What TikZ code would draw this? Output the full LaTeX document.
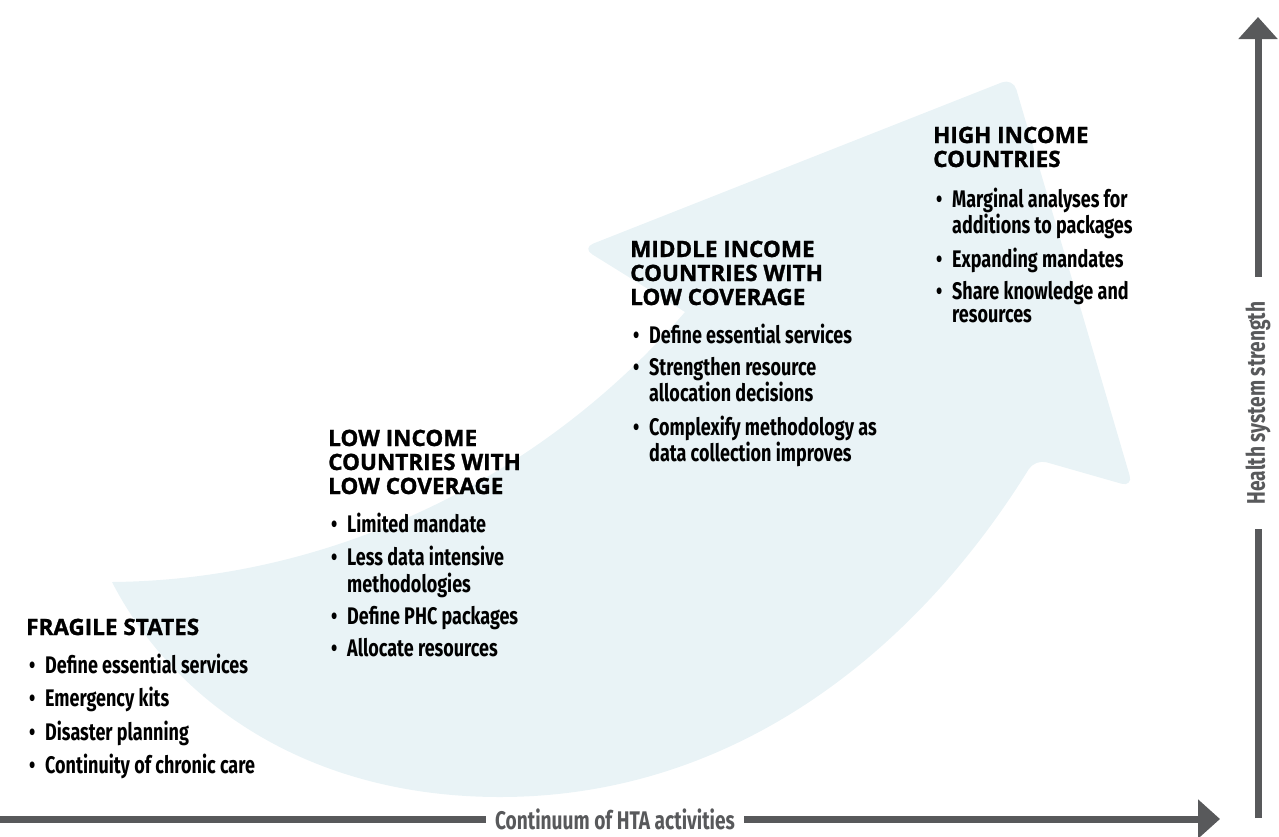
\documentclass[tikz,border=0pt]{standalone}
\usepackage{fontspec}
\setmainfont{Fira Sans}
\newfontfamily\headfont{Open Sans}[FakeBold=1.2]
\newfontfamily\listfont{Fira Sans}[FakeStretch=0.75]
\usetikzlibrary{arrows.meta}
\definecolor{hta_blue}{RGB}{233, 243, 246}
\definecolor{hta_gray}{RGB}{88, 89, 91}
\tikzstyle{head}=[anchor=base west,inner sep=0pt,
  font=\headfont\bfseries\fontsize{22.5}{24}\selectfont]
\tikzstyle{items}=[anchor=base west,inner sep=0pt,
  font=\listfont\bfseries\fontsize{24}{23.5}\selectfont]
\tikzstyle{axis}=[draw=hta_gray,line width=7pt]
\tikzstyle{axislabel}=[text=hta_gray,inner ysep=0pt,
  font=\listfont\bfseries\fontsize{25.5}{28}\selectfont]
\newcommand{\bdot}{\makebox[19pt][l]{\hspace{3pt}\textbullet}}
\newcommand{\isep}{7pt}

\begin{document}
\begin{tikzpicture}[x=1pt,y=-1pt]
        \useasboundingbox (0,0) rectangle (1279,836);
        % background arrow
        \fill[hta_blue] (685,312) [rounded corners=12pt] -- (582,248) -- (1013,78)
          -- (1133,487) -- (1035,459) [sharp corners]
          .. controls (920,645) and (740,797) .. (500,797)
          .. controls (300,797) and (170,695) .. (112,582)
          .. controls (330,580) and (540,480) .. (685,312) -- cycle;
        % stages
        \node [style=head] (fs) at (26,635) {FRAGILE STATES};
        \node [style=items] (fsl) at (26,673) {\begin{tabular}[t]{@{}l@{}l@{}}
          \bdot & Define essential services\\[\isep]
          \bdot & Emergency kits\\[\isep]
          \bdot & Disaster planning\\[\isep]
          \bdot & Continuity of chronic care
        \end{tabular}};
        \node [style=head] (lic) at (328,446) {\begin{tabular}[t]{@{}l@{}}
          LOW INCOME\\ COUNTRIES WITH\\ LOW COVERAGE\end{tabular}};
        \node [style=items] (licl) at (328,532) {\begin{tabular}[t]{@{}l@{}l@{}}
          \bdot & Limited mandate\\[\isep]
          \bdot & Less data intensive\\
                & methodologies\\[\isep]
          \bdot & Define PHC packages\\[\isep]
          \bdot & Allocate resources
        \end{tabular}};
        \node [style=head] (mic) at (630,257) {\begin{tabular}[t]{@{}l@{}}
          MIDDLE INCOME\\ COUNTRIES WITH\\ LOW COVERAGE\end{tabular}};
        \node [style=items] (micl) at (630,343) {\begin{tabular}[t]{@{}l@{}l@{}}
          \bdot & Define essential services\\[\isep]
          \bdot & Strengthen resource\\
                & allocation decisions\\[\isep]
          \bdot & Complexify methodology as\\
                & data collection improves
        \end{tabular}};
        \node [style=head] (hic) at (933,143) {\begin{tabular}[t]{@{}l@{}}
          HIGH INCOME\\ COUNTRIES\end{tabular}};
        \node [style=items] (hicl) at (933,207) {\begin{tabular}[t]{@{}l@{}l@{}}
          \bdot & Marginal analyses for\\
                & additions to packages\\[\isep]
          \bdot & Expanding mandates\\[\isep]
          \bdot & Share knowledge and\\
                & resources
        \end{tabular}};
        % axes
        \coordinate (h0) at (0,819);
        \coordinate (h1) at (1220,819);
        \node [style=axislabel,inner xsep=9pt] (hl) at (615,819) {Continuum of HTA activities};
        \draw [style=axis] (h0) to (hl);
        \draw [style=axis,-{Triangle[length=22pt,width=38pt]}] (hl) to (h1);
        \coordinate (v0) at (1258,818);
        \coordinate (v1) at (1258,17);
        \node [style=axislabel,inner xsep=25pt,rotate=90] (vl) at (1258,403) {Health system strength};
        \draw [style=axis] (v0) to (vl);
        \draw [style=axis,-{Triangle[length=22pt,width=38pt]}] (vl) to (v1);
    \end{tikzpicture}
\end{document}
